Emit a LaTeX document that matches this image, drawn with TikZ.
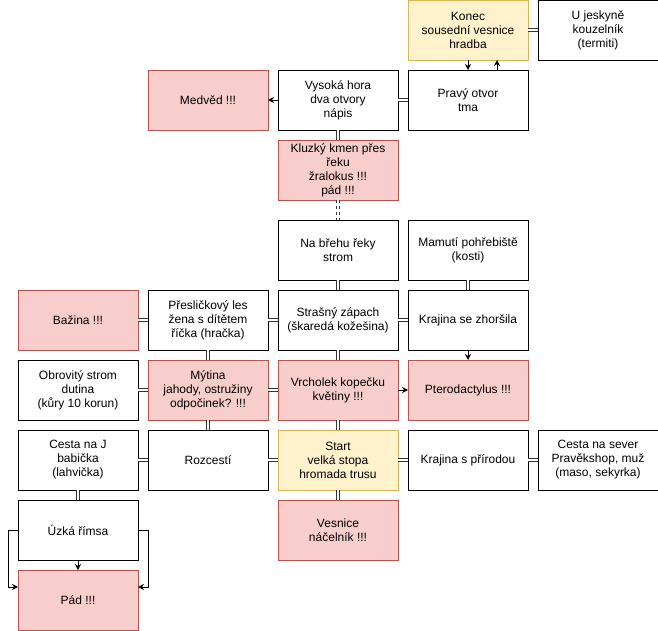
\documentclass[tikz,border=0pt]{standalone}
\usepackage{fontspec}
\setmainfont{Liberation Sans}
\usetikzlibrary{arrows.meta}
\definecolor{badfill}{HTML}{F8CECC}
\definecolor{baddraw}{HTML}{B85450}
\definecolor{keyfill}{HTML}{FFF2CC}
\definecolor{keydraw}{HTML}{D6B656}
\begin{document}
\begin{tikzpicture}[x=1pt, y=1pt, >={Stealth[length=6pt,width=6pt]},
		box/.style={draw, fill=white, line width=0.8pt, minimum width=120pt, minimum height=60pt, inner sep=0pt, outer sep=0pt, align=center, font=\fontsize{12}{14}\selectfont},
		bad/.style={box, draw=baddraw, fill=badfill},
		key/.style={box, draw=keydraw, fill=keyfill},
		link/.style={double, double distance=2pt, line width=0.6pt, draw=black!80},
		arr/.style={->, line width=0.8pt}]
			\useasboundingbox (0,0) rectangle (658,-631);
			% top
			\node[key] (kon) at (468,-30) {Konec\\sousední vesnice\\hradba};
			\node[box] (jes) at (598,-30) {U jeskyně\\kouzelník\\(termiti)};
			\node[bad] (med) at (208,-100) {Medvěd !!!};
			\node[box] (vys) at (338,-100) {Vysoká hora\\dva otvory\\nápis};
			\node[box] (pra) at (468,-100) {Pravý otvor\\tma};
			\node[bad] (klu) at (338,-170) {Kluzký kmen přes\\řeku\\žralokus !!!\\pád !!!};
			% middle
			\node[box] (bre) at (338,-250) {Na břehu řeky\\strom};
			\node[box] (mam) at (468,-250) {Mamutí pohřebiště\\(kosti)};
			\node[bad] (baz) at (78,-320) {Bažina !!!};
			\node[box] (pre) at (208,-320) {Přesličkový les\\žena s dítětem\\říčka (hračka)};
			\node[box] (str) at (338,-320) {Strašný zápach\\(škaredá kožešina)};
			\node[box] (zho) at (468,-320) {Krajina se zhoršila};
			\node[box] (obr) at (78,-390) {Obrovitý strom\\dutina\\(kůry 10 korun)};
			\node[bad] (myt) at (208,-390) {Mýtina\\jahody, ostružiny\\odpočinek? !!!};
			\node[bad] (vrc) at (338,-390) {Vrcholek kopečku\\květiny !!!};
			\node[bad] (pte) at (468,-390) {Pterodactylus !!!};
			% bottom
			\node[box] (ces) at (78,-460) {Cesta na J\\babička\\(lahvička)};
			\node[box] (roz) at (208,-460) {Rozcestí};
			\node[key] (sta) at (338,-460) {Start\\velká stopa\\hromada trusu};
			\node[box] (pri) at (468,-460) {Krajina s přírodou};
			\node[box] (sev) at (598,-460) {Cesta na sever\\Pravěkshop, muž\\(maso, sekyrka)};
			\node[box] (uzk) at (78,-530) {Úzká římsa};
			\node[bad] (ves) at (338,-530) {Vesnice\\náčelník !!!};
			\node[bad] (pad) at (78,-600) {Pád !!!};
			% paths
			\foreach \a/\b in {kon/jes, vys/pra, vys/klu, bre/str, mam/zho, baz/pre, pre/str, str/zho,
				pre/myt, str/vrc, obr/myt, myt/vrc, myt/roz, vrc/sta, ces/roz, roz/sta, sta/pri, pri/sev,
				sta/ves, ces/uzk}
				\draw[link] (\a) -- (\b);
			\draw[link, dashed] (klu) -- (bre);
			% arrows
			\draw[arr] (vys) -- (med);
			\draw[arr] (kon) -- (pra);
			\draw[arr] ([xshift=29pt]pra.north) -- ([xshift=29pt]kon.south);
			\draw[arr] (zho) -- (pte);
			\draw[arr] (vrc) -- (pte);
			\draw[arr] (uzk) -- (pad);
			\draw[arr] (uzk.west) -- ++(-10,0) |- ([yshift=13pt]pad.west);
			\draw[arr] (uzk.east) -- ++(10,0) |- ([yshift=13pt]pad.east);
		\end{tikzpicture}
\end{document}
